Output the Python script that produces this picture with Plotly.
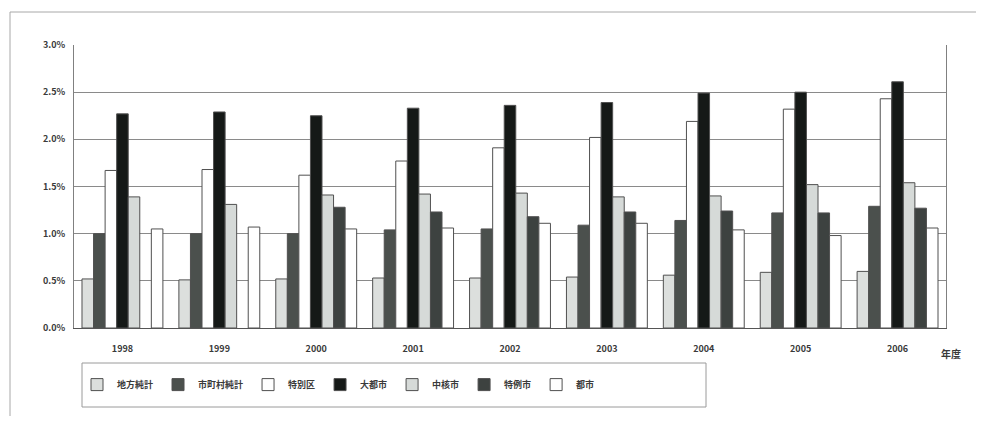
import plotly.graph_objects as go

# 年度
years = ["1998", "1999", "2000", "2001", "2002", "2003", "2004", "2005", "2006"]

# 区分ごとの比率 (%)
chiho_junkei = [0.52, 0.51, 0.52, 0.53, 0.53, 0.54, 0.56, 0.59, 0.60]
shichoson_junkei = [1.00, 1.00, 1.00, 1.04, 1.05, 1.09, 1.14, 1.22, 1.29]
tokubetsuku = [1.67, 1.68, 1.62, 1.77, 1.91, 2.02, 2.19, 2.32, 2.43]
daitoshi = [2.27, 2.29, 2.25, 2.33, 2.36, 2.39, 2.49, 2.50, 2.61]
chukakushi = [1.39, 1.31, 1.41, 1.42, 1.43, 1.39, 1.40, 1.52, 1.54]
tokureishi = [None, None, 1.28, 1.23, 1.18, 1.23, 1.24, 1.22, 1.27]
toshi = [1.05, 1.07, 1.05, 1.06, 1.11, 1.11, 1.04, 0.98, 1.06]

series_names = ["地方純計", "市町村純計", "特別区", "大都市", "中核市", "特例市", "都市"]
series_values = [chiho_junkei, shichoson_junkei, tokubetsuku, daitoshi,
                 chukakushi, tokureishi, toshi]
fill_colors = ["#dcdfdd", "#4b504d", "#ffffff", "#151917", "#d6dad8", "#3d4240", "#ffffff"]

font_family = "Noto Sans CJK JP, Noto Sans, sans-serif"
text_color = "#3a3a3a"

fig = go.Figure()
for name, vals, col in zip(series_names, series_values, fill_colors):
    fig.add_trace(go.Bar(
        x=years,
        y=[v / 100 if v is not None else None for v in vals],
        name=name,
        marker=dict(color=col, line=dict(color="#505050", width=1)),
    ))

fig.update_layout(
    width=986,
    height=423,
    paper_bgcolor="#ffffff",
    plot_bgcolor="#ffffff",
    barmode="group",
    bargap=0.165,
    bargroupgap=0,
    margin=dict(l=74, r=40, t=45, b=95),
    font=dict(family=font_family, size=9, color=text_color),
    showlegend=True,
    legend=dict(
        orientation="h",
        x=(77 - 74) / 872, xanchor="left",
        y=-0.2, yanchor="middle",
        bgcolor="rgba(0,0,0,0)",
        borderwidth=0,
        font=dict(size=9, color=text_color, weight="bold"),
        itemwidth=30,
        traceorder="normal",
    ),
    xaxis=dict(
        showline=True, linecolor="#555555", linewidth=1,
        showgrid=False, ticks="outside", ticklen=12, tickcolor="rgba(0,0,0,0)",
        mirror=False,
        tickfont=dict(size=9, color=text_color, weight="bold"),
    ),
    yaxis=dict(
        range=[0, 0.03],
        dtick=0.005,
        tickformat=".1%",
        showgrid=True, gridcolor="#8a8a8a", gridwidth=1,
        showline=True, linecolor="#808080", linewidth=1, mirror=True,
        zeroline=False,
        ticks="outside", ticklen=6, tickcolor="rgba(0,0,0,0)",
        tickfont=dict(size=9, color=text_color, weight="bold"),
    ),
    shapes=[
        # 凡例の枠
        dict(type="rect", xref="paper", yref="paper",
             x0=(82 - 74) / 872, x1=(706 - 74) / 872,
             y0=(328 - 407) / 283, y1=(328 - 363) / 283,
             line=dict(color="#9a9a9a", width=1), fillcolor="rgba(0,0,0,0)"),
        # 外枠 (上辺と左辺)
        dict(type="line", xref="paper", yref="paper",
             x0=(10 - 74) / 872, x1=(976 - 74) / 872,
             y0=(328 - 12) / 283, y1=(328 - 12) / 283,
             line=dict(color="#a8a8a8", width=1)),
        dict(type="line", xref="paper", yref="paper",
             x0=(10 - 74) / 872, x1=(10 - 74) / 872,
             y0=(328 - 12) / 283, y1=(328 - 416) / 283,
             line=dict(color="#a8a8a8", width=1)),
    ],
    annotations=[
        dict(text="年度", xref="paper", yref="paper",
             x=(939 - 74) / 872, y=(328 - 353) / 283,
             xanchor="left", yanchor="middle", showarrow=False,
             font=dict(size=10, color=text_color, weight="bold")),
    ],
)

fig.write_html("out.html")
